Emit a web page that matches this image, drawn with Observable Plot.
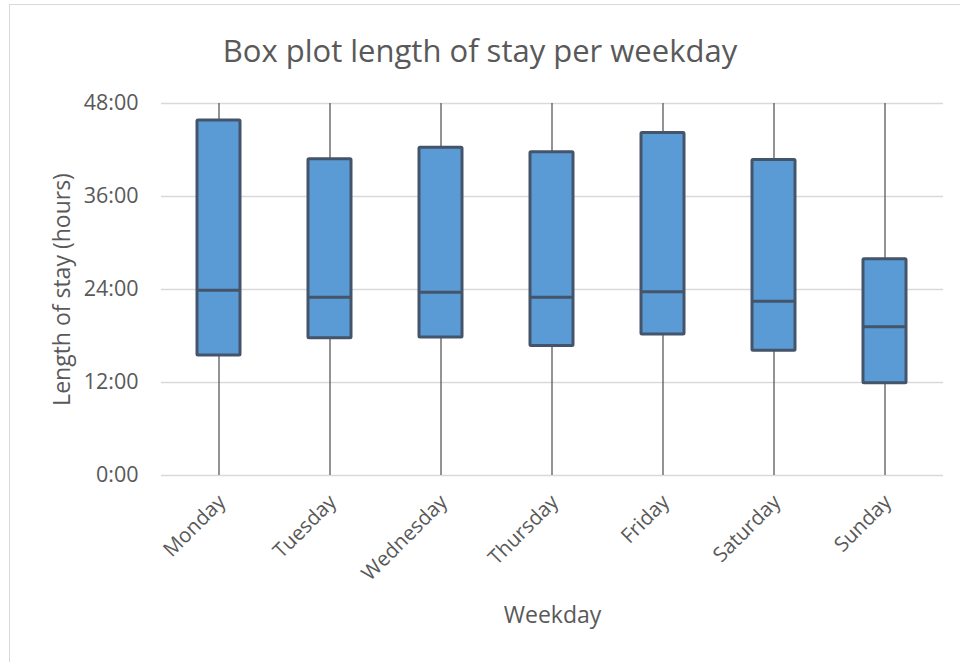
<!DOCTYPE html>
<html>
<head>
<meta charset="utf-8">
<script src="https://cdn.jsdelivr.net/npm/d3@7"></script>
<script src="https://cdn.jsdelivr.net/npm/@observablehq/plot@0.6"></script>
<style>
  html, body { margin: 0; padding: 0; background: #fff; }
  #chart { position: relative; width: 960px; height: 662px; overflow: hidden; font-family: "Open Sans", sans-serif; }
  #frame { position: absolute; left: 9px; top: 4px; width: 1000px; height: 1000px; border-left: 1.5px solid #d9d9d9; border-top: 1.5px solid #d9d9d9; }
  #title { position: absolute; left: 0; width: 960px; top: 30px; text-align: center; font-size: 31px; line-height: 40px; color: #595959; font-weight: 400; }
  #plot { position: absolute; left: 0; top: 0; }
</style>
</head>
<body>
<div id="chart">
  <div id="frame"></div>
  <div id="plot"></div>
  <div id="title">Box plot length of stay per weekday</div>
</div>
<script>
// Length of stay per weekday, in hours
const days = ["Monday", "Tuesday", "Wednesday", "Thursday", "Friday", "Saturday", "Sunday"];
const minimum = [0, 0, 0, 0, 0, 0, 0];
const quartile1 = [15.5, 17.7, 17.8, 16.7, 18.2, 16.1, 11.9];
const median = [23.9, 23.0, 23.65, 23.0, 23.7, 22.5, 19.2];
const quartile3 = [45.8, 40.8, 42.3, 41.7, 44.2, 40.7, 27.9];
const maximum = [48, 48, 48, 48, 48, 48, 48];
const yTicks = [0, 12, 24, 36, 48];

const rows = days.map((day, i) => ({
  day,
  min: minimum[i],
  q1: quartile1[i],
  median: median[i],
  q3: quartile3[i],
  max: maximum[i]
}));

const boxStroke = "#44546a";
const boxFill = "#5b9bd5";
const textColor = "#595959";

const chart = Plot.plot({
  width: 960,
  height: 662,
  marginLeft: 161,
  marginRight: 17,
  marginTop: 103,
  marginBottom: 187,
  style: { fontFamily: "Open Sans, sans-serif", fontSize: "21px", color: textColor, background: "transparent", overflow: "visible" },
  x: { domain: days, paddingInner: 0.61, paddingOuter: 0.305, label: null },
  y: { domain: [0, 48], label: null },
  marks: [
    Plot.ruleY(yTicks, { stroke: "#d9d9d9", strokeWidth: 1.3 }),
    Plot.axisY({ ticks: yTicks, tickFormat: d => `${d}:00`, tickSize: 0, tickPadding: 23, fontSize: 21.5, label: null }),
    Plot.axisX({ tickSize: 0, tickRotate: -45, tickPadding: 23, dx: 3, fontSize: 20.5, label: null }),
    Plot.ruleX(rows, { x: "day", y1: "min", y2: "max", stroke: "#595959", strokeWidth: 1.3 }),
    Plot.barY(rows, { x: "day", y1: "q1", y2: "q3", fill: boxFill, stroke: boxStroke, strokeWidth: 3, strokeLinejoin: "round", rx: 1 }),
    Plot.tickY(rows, { x: "day", y: "median", stroke: boxStroke, strokeWidth: 3 }),
    Plot.text(["Length of stay (hours)"], { frameAnchor: "left", textAnchor: "middle", dx: -99, rotate: -90, fontSize: 23, fill: textColor }),
    Plot.text(["Weekday"], { frameAnchor: "bottom", dy: 147, fontSize: 23, fill: textColor })
  ]
});

document.getElementById("plot").appendChild(chart);
</script>
</body>
</html>
